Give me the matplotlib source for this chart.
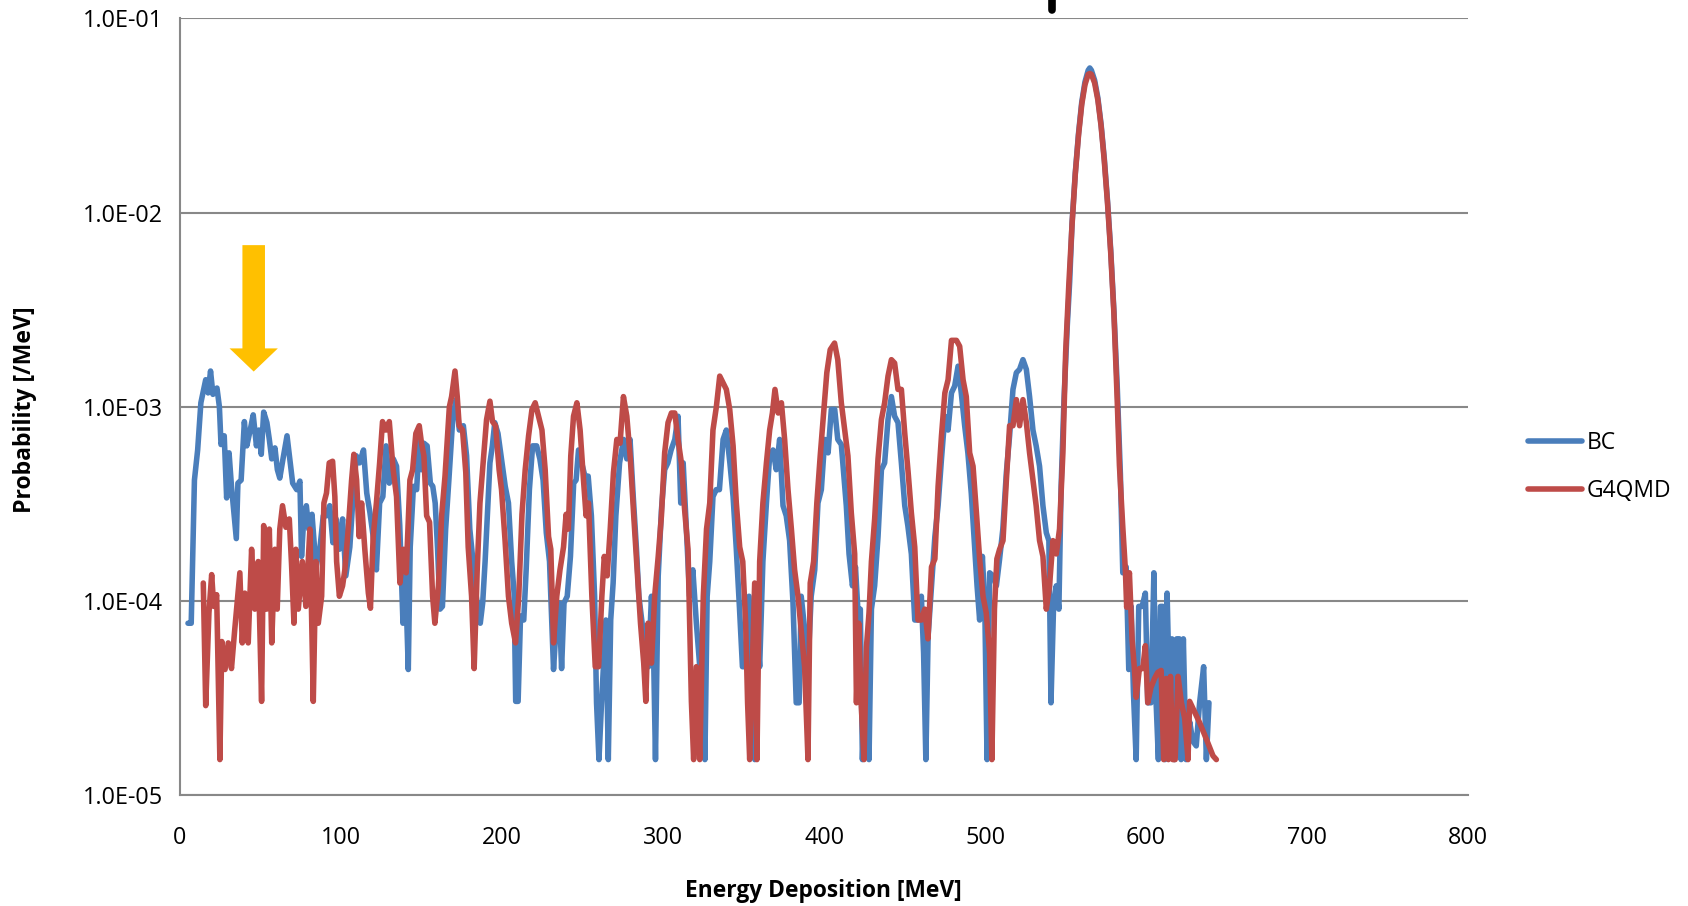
import matplotlib
matplotlib.use("Agg")
import matplotlib.pyplot as plt
from matplotlib.patches import Polygon
from matplotlib.ticker import FixedLocator
import matplotlib.transforms as mtransforms

plt.rcParams['font.family'] = ['Open Sans', 'DejaVu Sans']

# ---------------- data ----------------
bc_energy = [5, 7, 9, 11, 13, 16, 17.5, 19, 20.5, 23, 24.5, 25.5, 27.5, 29, 30.5, 32, 35, 36, 38, 40,
             41.5, 43.5, 45.5, 47.5, 49, 50.5, 52, 54, 55.5, 57, 59, 60.5, 62, 64, 66.5, 68, 70, 72.5, 74.5, 75.5,
             77, 78.5, 80, 82, 84.5, 87, 89, 91, 93, 95, 97, 99, 101, 103, 105.5, 107.5, 109.5, 111.5, 114, 116,
             118, 120, 122, 124, 126, 128, 130, 132.5, 134.5, 136.5, 138.5, 140, 141.8, 143, 145, 147, 148.6, 150, 151.5, 153.5,
             155.5, 157, 158.5, 160, 161.5, 163, 165, 167, 169.5, 171.5, 173.5, 176, 178, 180, 182, 184, 186.5, 188, 189.5, 191,
             192.5, 194, 195.5, 197.5, 200, 202, 204, 206, 207.5, 208.5, 210, 211.5, 213.5, 215, 217, 219, 221.5, 223.5, 225.5, 227.5,
             229.5, 232, 234, 235.5, 237, 238.5, 240.5, 242.5, 244.5, 246, 247.5, 249.5, 251.5, 253.5, 255.5, 257.5, 258.7, 260.2, 261.8, 264.5,
             266, 267.5, 269, 270.7, 273, 275.5, 277.5, 279.5, 281.5, 283.5, 285, 287, 289.5, 291, 292.8, 294, 295.3, 297, 299, 301,
             303, 305, 307.3, 309.3, 311, 312.5, 314.5, 316.5, 318.5, 320.7, 322.8, 324.5, 326, 327.4, 329, 331, 333, 335, 337.3, 339.3,
             341.5, 343.5, 345.5, 347.5, 349.3, 351.3, 353.4, 355, 357, 358.5, 360, 362, 364.2, 366.2, 368.3, 370.3, 372.4, 374.5, 376.5, 378.6,
             380.7, 382.7, 384.5, 385.8, 388, 390, 392, 394.2, 396.2, 398.3, 400.4, 402.5, 404.5, 406.6, 408.5, 410.7, 413.8, 415.5, 417.6, 419.5,
             421.1, 422.5, 423.8, 425.8, 427.9, 429.4, 431.4, 433.5, 435.6, 437.6, 439.7, 441.8, 443.8, 445.9, 448, 450.1, 452, 454.2, 456.3, 458.3,
             460.4, 461.8, 463.2, 464.6, 466.7, 468.8, 470.8, 472.9, 475, 477, 479.1, 481.1, 483.2, 485.2, 487.3, 489.3, 491.4, 493.5, 495, 496.6,
             498.3, 499.8, 501.2, 502.8, 505, 507, 509, 511, 513.2, 515.2, 517.3, 519.4, 521.4, 523.5, 525.6, 527.6, 529.7, 531.7, 533.8, 535.9,
             538, 539.6, 540.9, 542.5, 544.2, 545.8, 547.2, 549, 551, 552.5, 554, 556, 558, 560, 562, 564, 565, 566, 568, 570,
             572, 574, 576, 578, 580, 582, 584, 585.5, 587.6, 589.2, 590.7, 592.1, 593.8, 595.4, 597.5, 599.5, 601, 603, 604.8, 606.2,
             607.6, 608.9, 610.3, 611.7, 613, 614.4, 616, 617.5, 619, 620.6, 621.7, 623.1, 624.8, 627, 629, 631.1, 633.2, 635.7, 637.4, 639]
bc_prob = [7.7e-5, 7.7e-5, 4.2e-4, 6.0e-4, 1.05e-3, 1.38e-3, 1.18e-3, 1.53e-3, 1.16e-3, 1.25e-3, 1.0e-3, 6.4e-4, 7.1e-4, 3.4e-4, 5.8e-4, 3.9e-4, 2.1e-4, 4.05e-4, 4.2e-4, 8.4e-4,
           6.3e-4, 7.5e-4, 9.1e-4, 6.3e-4, 7.6e-4, 5.7e-4, 9.4e-4, 8.3e-4, 6.8e-4, 5.4e-4, 6.15e-4, 4.75e-4, 4.3e-4, 5.4e-4, 7.1e-4, 5.6e-4, 4.05e-4, 3.75e-4, 4.15e-4, 1.7e-4,
           2.75e-4, 3.1e-4, 2.35e-4, 2.8e-4, 1.5e-4, 1.9e-4, 2.75e-4, 2.75e-4, 3.1e-4, 2.0e-4, 2.65e-4, 1.85e-4, 2.65e-4, 1.35e-4, 1.9e-4, 3.45e-4, 5.6e-4, 5.15e-4, 6.0e-4, 3.6e-4,
           2.85e-4, 2.15e-4, 1.45e-4, 3.2e-4, 3.45e-4, 6.3e-4, 4.05e-4, 5.4e-4, 4.95e-4, 2.45e-4, 7.7e-5, 1.35e-4, 4.45e-5, 1.9e-4, 3.9e-4, 3.75e-4, 6.8e-4, 4.75e-4, 6.5e-4, 6.3e-4,
           4.05e-4, 3.9e-4, 3.2e-4, 1.85e-4, 9.1e-5, 9.4e-5, 2.35e-4, 4.2e-4, 8.95e-4, 1.09e-3, 7.6e-4, 8.0e-4, 5.6e-4, 2.35e-4, 1.6e-4, 1.06e-4, 7.7e-5, 9.8e-5, 1.6e-4, 2.85e-4,
           5.15e-4, 6.3e-4, 8.3e-4, 7.3e-4, 5.15e-4, 3.9e-4, 3.2e-4, 1.6e-4, 1.1e-4, 3.05e-5, 3.05e-5, 8.4e-5, 8.0e-5, 1.45e-4, 3.75e-4, 6.3e-4, 6.3e-4, 5.4e-4, 4.2e-4, 2.25e-4,
           1.6e-4, 4.45e-5, 8.4e-5, 9.8e-5, 4.5e-5, 9.8e-5, 1.06e-4, 1.7e-4, 4.05e-4, 4.2e-4, 6.0e-4, 5.15e-4, 4.4e-4, 4.4e-4, 2.75e-4, 1.06e-4, 3.0e-5, 1.53e-5, 3.0e-5, 8.0e-5,
           1.53e-5, 8.0e-5, 1.24e-4, 2.75e-4, 5.15e-4, 6.8e-4, 5.4e-4, 6.8e-4, 3.45e-4, 1.85e-4, 1.06e-4, 7.7e-5, 5.6e-5, 4.6e-5, 1.06e-4, 6.1e-5, 1.53e-5, 1.35e-4, 2.95e-4, 4.75e-4,
           5.15e-4, 6.0e-4, 6.8e-4, 8.95e-4, 3.2e-4, 5.15e-4, 2.35e-4, 1.06e-4, 1.45e-4, 7.7e-5, 4.6e-5, 4.6e-5, 1.53e-5, 1.06e-4, 1.6e-4, 3.45e-4, 3.75e-4, 3.75e-4, 6.8e-4, 7.6e-4,
           5.15e-4, 3.45e-4, 1.85e-4, 9.1e-5, 4.6e-5, 4.6e-5, 1.06e-4, 4.6e-5, 1.53e-5, 7.1e-5, 4.6e-5, 1.6e-4, 3.2e-4, 5.6e-4, 6.0e-4, 4.75e-4, 6.8e-4, 3.1e-4, 2.75e-4, 2.05e-4,
           9.8e-5, 3.0e-5, 3.0e-5, 1.06e-4, 7.1e-5, 4.6e-5, 1.06e-4, 1.45e-4, 3.2e-4, 3.75e-4, 6.8e-4, 5.8e-4, 9.7e-4, 9.7e-4, 6.8e-4, 6.4e-4, 3.1e-4, 1.75e-4, 1.2e-4, 1.5e-4,
           8.7e-5, 9.1e-5, 1.53e-5, 4.45e-5, 1.53e-5, 9.1e-5, 1.2e-4, 2.15e-4, 4.75e-4, 5.15e-4, 8.6e-4, 1.13e-3, 8.95e-4, 8.3e-4, 5.15e-4, 3.1e-4, 2.45e-4, 1.75e-4, 8.0e-5, 8.0e-5,
           1.06e-4, 5.4e-5, 1.53e-5, 6.6e-5, 1.2e-4, 2.15e-4, 3.1e-4, 5.4e-4, 8.95e-4, 7.6e-4, 1.18e-3, 1.28e-3, 1.62e-3, 1.18e-3, 8.0e-4, 5.8e-4, 3.6e-4, 1.9e-4, 1.2e-4, 8.0e-5,
           1.7e-4, 9.4e-5, 1.53e-5, 1.4e-4, 1.35e-4, 1.2e-4, 1.65e-4, 2.35e-4, 4.6e-4, 7.1e-4, 1.23e-3, 1.5e-3, 1.56e-3, 1.75e-3, 1.56e-3, 1.13e-3, 7.6e-4, 6.3e-4, 4.95e-4, 3.1e-4,
           2.25e-4, 2.05e-4, 3.0e-5, 9.4e-5, 1.2e-4, 9.1e-5, 3.9e-4, 1.1e-3, 2.6e-3, 4.4e-3, 8.9e-3, 1.6e-2, 2.55e-2, 3.7e-2, 4.7e-2, 5.4e-2, 5.55e-2, 5.4e-2, 4.8e-2, 3.9e-2,
           2.85e-2, 1.9e-2, 1.15e-2, 6.4e-3, 3.1e-3, 1.3e-3, 4.5e-4, 1.4e-4, 1.5e-4, 4.45e-5, 9.4e-5, 3.4e-5, 1.53e-5, 9.4e-5, 9.4e-5, 1.1e-4, 3.0e-5, 3.0e-5, 1.4e-4, 3.0e-5,
           1.53e-5, 9.4e-5, 9.4e-5, 1.53e-5, 1.1e-4, 3.5e-5, 6.4e-5, 1.53e-5, 6.4e-5, 6.4e-5, 1.53e-5, 6.4e-5, 1.53e-5, 2.4e-5, 1.9e-5, 1.8e-5, 3.0e-5, 4.6e-5, 1.53e-5, 3.0e-5]

g4_energy = [14.5, 16, 18, 19.7, 21, 22.8, 24.8, 26, 28, 30, 32, 34, 37.2, 38.7, 40.3, 42.4, 44.5, 46.5, 48.6, 50.7,
             52, 53.8, 55.5, 57, 59, 60.4, 62, 63.7, 65.8, 67.9, 69.3, 70.8, 72, 73.5, 76, 78.2, 80.7, 82.8, 84.4, 85.9,
             88, 89.4, 91, 92.7, 94.8, 96.2, 97.3, 99, 101, 102.4, 104.5, 106.6, 108, 109.7, 111.3, 112.8, 114.8, 117, 118.3, 120,
             122, 124, 125.8, 127.9, 130, 132.4, 134.5, 136.6, 138.7, 140.5, 142.8, 144.5, 146.5, 148.6, 150, 151.5, 153.2, 155, 156.9, 158.3,
             160.5, 162.5, 164.6, 167.3, 168.7, 170.8, 172.2, 173.4, 175.5, 177.5, 179, 181.1, 182.7, 184.6, 186.3, 188.3, 190.4, 192.5, 194.1, 196,
             198.2, 199.7, 201.9, 204, 206, 208.4, 210.4, 212.4, 214.4, 216.5, 218.6, 220.6, 222.7, 224.8, 226.8, 228.9, 230.3, 232, 234, 236,
             238.2, 239.8, 241.2, 242.7, 244.4, 246.5, 248.5, 250.6, 252.2, 253.7, 255.8, 257.9, 260, 262, 263.5, 265.3, 267.2, 269.2, 271.3, 273.3,
             275.4, 277.5, 279.7, 281.8, 283.9, 286, 288, 289.3, 290.7, 292.8, 294.8, 297, 299, 301, 303.1, 305.2, 307.3, 309.3, 311.4, 313.4,
             315.5, 317.6, 319, 320.7, 322.8, 325, 327, 329, 331, 333.1, 335.2, 337.3, 339.3, 341.4, 343.5, 345.5, 347.6, 349.5, 351.3, 352.5,
             353.8, 355.5, 356.9, 358.3, 360, 362, 364.2, 366.2, 367.9, 369.5, 371.5, 373.5, 375.5, 377.6, 379.7, 381.7, 383.8, 385.8, 387.9, 390,
             391.4, 393.5, 395.5, 397.6, 399.7, 401.7, 403.8, 406.5, 408.5, 410.7, 412.8, 414.8, 416.9, 419, 420.1, 421.5, 423, 424.8, 426.3, 427.9,
             429.4, 431.4, 433.5, 435.6, 437.6, 439.7, 441.8, 443.8, 445.9, 448, 450.1, 452.2, 454.2, 456.3, 458.3, 460.4, 462.5, 464.5, 466.7, 468.8,
             470.8, 472.9, 475, 477, 479.1, 482.2, 484.2, 486.3, 488.3, 490.4, 492.5, 494.6, 496.6, 498.7, 500.7, 502.8, 504.2, 505.8, 507.3, 509,
             511.1, 513.2, 515.2, 517.3, 519.4, 521.4, 523.5, 525.6, 527.6, 529.7, 531.7, 533.8, 535.9, 538, 540, 542.1, 544.2, 546.2, 548.3, 550,
             552, 554, 556, 558, 560, 562, 564, 565, 566, 568, 570, 572, 574, 576, 578, 580, 582, 583.4, 585.5, 587.1,
             587.9, 589.6, 591.3, 592.7, 593.8, 595.8, 597.9, 599.5, 601, 603, 605.2, 607.2, 609.3, 610.9, 612.4, 613.8, 615.1, 616.5, 618, 619.8,
             621.9, 623.9, 626, 627, 629.1, 633.2, 637.4, 641.5, 643.6]
g4_prob = [1.24e-4, 2.9e-5, 8.7e-5, 1.37e-4, 9.4e-5, 1.08e-4, 1.53e-5, 6.2e-5, 4.45e-5, 6.1e-5, 4.5e-5, 7.1e-5, 1.4e-4, 6.1e-5, 1.1e-4, 6.1e-5, 1.85e-4, 9.1e-5, 1.6e-4, 3.05e-5,
           2.45e-4, 9.1e-5, 2.35e-4, 6.1e-5, 1.85e-4, 9.1e-5, 2.35e-4, 3.1e-4, 2.4e-4, 2.65e-4, 1.55e-4, 7.7e-5, 1.85e-4, 9.1e-5, 1.6e-4, 9.4e-5, 2.35e-4, 3.05e-5, 1.6e-4, 7.7e-5,
           1.06e-4, 3.2e-4, 3.6e-4, 5.15e-4, 5.25e-4, 3.45e-4, 1.6e-4, 1.06e-4, 1.2e-4, 1.45e-4, 2.35e-4, 4.2e-4, 5.7e-4, 4.2e-4, 2.15e-4, 3.2e-4, 1.85e-4, 1.1e-4, 9.2e-5, 2.15e-4,
           3.2e-4, 5.15e-4, 8.4e-4, 7.6e-4, 8.4e-4, 4.75e-4, 3.45e-4, 1.24e-4, 1.85e-4, 1.4e-4, 4.2e-4, 4.75e-4, 7.3e-4, 8.0e-4, 6.5e-4, 5.6e-4, 2.75e-4, 2.55e-4, 1.06e-4, 7.7e-5,
           1.2e-4, 2.75e-4, 4.4e-4, 1.0e-3, 1.13e-3, 1.53e-3, 1.13e-3, 8.0e-4, 7.6e-4, 4.6e-4, 1.9e-4, 1.06e-4, 4.5e-5, 1.45e-4, 3.2e-4, 5.15e-4, 8.6e-4, 1.07e-3, 8.4e-4, 8.0e-4,
           4.75e-4, 3.75e-4, 2.05e-4, 1.06e-4, 7.7e-5, 6.1e-5, 1.06e-4, 2.8e-4, 4.75e-4, 7.1e-4, 9.7e-4, 1.05e-3, 8.95e-4, 7.6e-4, 4.75e-4, 2.15e-4, 1.85e-4, 6.1e-5, 1.06e-4, 1.45e-4,
           1.9e-4, 2.8e-4, 2.35e-4, 5.6e-4, 8.95e-4, 1.05e-3, 7.6e-4, 4.2e-4, 2.75e-4, 3.2e-4, 1.06e-4, 4.6e-5, 4.6e-5, 1.06e-4, 1.7e-4, 1.35e-4, 2.35e-4, 4.6e-4, 6.8e-4, 6.5e-4,
           1.13e-3, 8.95e-4, 5.4e-4, 2.75e-4, 1.45e-4, 7.7e-5, 4.8e-5, 3.05e-5, 7.7e-5, 4.8e-5, 1.06e-4, 1.7e-4, 2.75e-4, 5.8e-4, 8.3e-4, 9.3e-4, 9.3e-4, 6.8e-4, 5.15e-4, 2.95e-4,
           1.85e-4, 3.05e-5, 1.53e-5, 4.6e-5, 1.53e-5, 1.06e-4, 2.35e-4, 3.2e-4, 7.6e-4, 1.0e-3, 1.44e-3, 1.33e-3, 1.23e-3, 9.7e-4, 6.3e-4, 3.2e-4, 1.9e-4, 1.6e-4, 7.7e-5, 3.0e-5,
           1.53e-5, 4.8e-5, 1.24e-4, 1.53e-5, 1.6e-4, 3.2e-4, 5.15e-4, 7.6e-4, 9.3e-4, 1.23e-3, 9.3e-4, 1.05e-3, 6.8e-4, 3.75e-4, 2.35e-4, 1.45e-4, 1.06e-4, 7.1e-5, 4.6e-5, 1.53e-5,
           1.24e-4, 1.6e-4, 3.2e-4, 5.6e-4, 9.3e-4, 1.5e-3, 1.97e-3, 2.13e-3, 1.75e-3, 1.05e-3, 7.6e-4, 5.6e-4, 2.85e-4, 1.75e-4, 3.0e-5, 7.7e-5, 3.0e-5, 1.53e-5, 5.8e-5, 8.7e-5,
           1.6e-4, 2.65e-4, 5.4e-4, 8.6e-4, 1.05e-3, 1.44e-3, 1.75e-3, 1.68e-3, 1.23e-3, 1.23e-3, 7.3e-4, 4.6e-4, 2.85e-4, 1.9e-4, 8.0e-5, 8.0e-5, 9.1e-5, 6.4e-5, 1.5e-4, 1.65e-4,
           3.9e-4, 7.1e-4, 1.18e-3, 1.38e-3, 2.2e-3, 2.2e-3, 2.05e-3, 1.38e-3, 1.13e-3, 5.8e-4, 4.95e-4, 2.85e-4, 1.65e-4, 1.06e-4, 8.7e-5, 5.4e-5, 1.53e-5, 9.1e-5, 1.65e-4, 1.85e-4,
           2.05e-4, 4.2e-4, 8.0e-4, 8.0e-4, 1.09e-3, 8.0e-4, 1.09e-3, 8.3e-4, 5.8e-4, 4.2e-4, 3.1e-4, 2.05e-4, 1.7e-4, 9.1e-5, 1.2e-4, 2.05e-4, 1.75e-4, 2.35e-4, 5.8e-4, 1.9e-3,
           4.3e-3, 8.7e-3, 1.58e-2, 2.5e-2, 3.6e-2, 4.55e-2, 5.15e-2, 5.2e-2, 5.15e-2, 4.65e-2, 3.8e-2, 2.8e-2, 1.85e-2, 1.12e-2, 6.2e-3, 3.0e-3, 1.1e-3, 5.0e-4, 2.4e-4, 1.45e-4,
           9.3e-5, 1.4e-4, 6.3e-5, 4.5e-5, 3.2e-5, 4.5e-5, 4.5e-5, 5.9e-5, 3.0e-5, 3.6e-5, 4.0e-5, 4.3e-5, 4.4e-5, 1.53e-5, 4.0e-5, 1.53e-5, 4.1e-5, 1.53e-5, 1.53e-5, 4.1e-5,
           3.0e-5, 2.5e-5, 1.53e-5, 3.05e-5, 2.8e-5, 2.37e-5, 1.95e-5, 1.6e-5, 1.53e-5]

series_labels = ["BC", "G4QMD"]
x_ticks = [0, 100, 200, 300, 400, 500, 600, 700, 800]
y_ticks = [1e-5, 1e-4, 1e-3, 1e-2, 1e-1]
y_tick_labels = ["1.0E-05", "1.0E-04", "1.0E-03", "1.0E-02", "1.0E-01"]
x_label = "Energy Deposition [MeV]"
y_label = "Probability [/MeV]"

# annotation positions (data coords)
arrow_x = 45.8
arrow_top, arrow_neck, arrow_tip = 6.8e-3, 2.0e-3, 1.52e-3
marker_x = 541.6

# ---------------- figure ----------------
fig = plt.figure(figsize=(16.88, 9.06), dpi=100)
ax = fig.add_axes([0.1066, 0.1220, 0.7632, 0.8578])

blue = "#4A7EBB"
red = "#BE4B48"
ax.plot(bc_energy, bc_prob, color=blue, lw=4.0, solid_joinstyle='round', solid_capstyle='round',
        label=series_labels[0], zorder=3)
ax.plot(g4_energy, g4_prob, color=red, lw=4.0, solid_joinstyle='round', solid_capstyle='round',
        label=series_labels[1], zorder=4)

ax.set_yscale('log')
ax.set_xlim(0, 800)
ax.set_ylim(1e-5, 1e-1)
ax.yaxis.set_major_locator(FixedLocator(y_ticks))
ax.yaxis.set_minor_locator(FixedLocator([]))
ax.set_yticks(y_ticks)
ax.set_yticklabels(y_tick_labels)
ax.set_xticks(x_ticks)
ax.set_xticklabels([str(v) for v in x_ticks])
ax.tick_params(axis='both', which='both', length=0, labelsize=16.8, colors='black')
ax.tick_params(axis='x', pad=22)
ax.tick_params(axis='y', pad=12)

ax.grid(axis='y', color='#888888', lw=1.5, zorder=1)
ax.set_axisbelow(True)
for s in ['top', 'right']:
    ax.spines[s].set_visible(False)
for s in ['left', 'bottom']:
    ax.spines[s].set_color('#888888')
    ax.spines[s].set_linewidth(1.5)

ax.set_xlabel(x_label, fontsize=16.4, fontweight='bold', va='center')
ax.xaxis.set_label_coords(0.4994, -0.1235)
ax.set_ylabel(y_label, fontsize=16.6, fontweight='bold', va='center')
ax.yaxis.set_label_coords(-0.1205, 0.497)

# yellow arrow
hw_head, hw_shaft = 15.0, 7.0
arrow = Polygon([[arrow_x - hw_shaft, arrow_top], [arrow_x + hw_shaft, arrow_top],
                 [arrow_x + hw_shaft, arrow_neck], [arrow_x + hw_head, arrow_neck],
                 [arrow_x, arrow_tip], [arrow_x - hw_head, arrow_neck],
                 [arrow_x - hw_shaft, arrow_neck]], closed=True, facecolor='#FFC000',
                edgecolor='none', zorder=5)
ax.add_patch(arrow)

# black mark above the plot
trans = mtransforms.blended_transform_factory(ax.transData, fig.transFigure)
fig.add_artist(plt.Line2D([marker_x, marker_x], [0.9895, 1.01], transform=trans,
                          color='black', lw=5.5, solid_capstyle='round'))

leg = ax.legend(loc='center left', bbox_to_anchor=(1.0466, 0.423), frameon=False,
                fontsize=16.5, handlelength=2.35, handletextpad=0.2, labelspacing=1.05,
                borderpad=0, borderaxespad=0)

fig.savefig("out.png", dpi=100)
